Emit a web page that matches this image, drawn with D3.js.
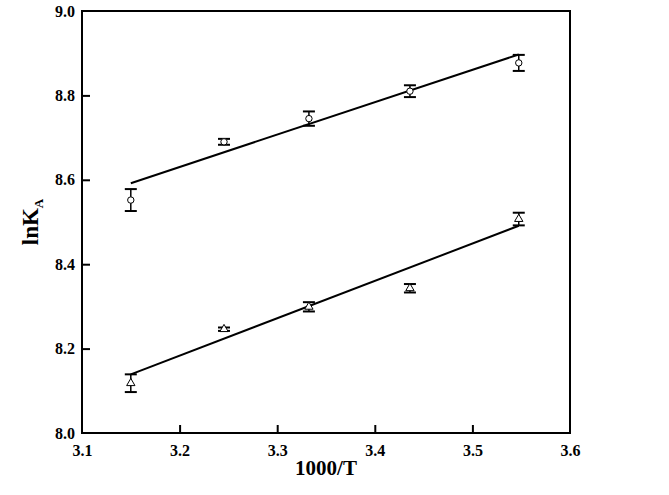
<!DOCTYPE html>
<html>
<head>
<meta charset="utf-8">
<script src="https://cdn.jsdelivr.net/npm/d3@7"></script>
<style>
html,body{margin:0;padding:0;background:#fff;}
svg{display:block;}
text{font-family:"Liberation Serif","Times New Roman",serif;font-weight:bold;fill:#000;}
</style>
</head>
<body>
<svg id="chart" width="669" height="495"></svg>
<script>
// Data
const xValues = [3.150, 3.2455, 3.3325, 3.436, 3.5475];
const circleY = [8.552, 8.690, 8.745, 8.810, 8.877];
const circleErr = [0.026, 0.007, 0.017, 0.014, 0.019];
const triangleY = [8.118, 8.246, 8.299, 8.343, 8.507];
const triangleErr = [0.021, 0.004, 0.011, 0.010, 0.015];
const fitX = [3.150, 3.5475];
const fitCircle = [8.592, 8.897];
const fitTriangle = [8.139, 8.491];
const xTicks = [3.1, 3.2, 3.3, 3.4, 3.5, 3.6];
const yTicks = [8.0, 8.2, 8.4, 8.6, 8.8, 9.0];

const svg = d3.select("#chart");
const L = 82, R = 570, T = 11, B = 433;
const x = d3.scaleLinear().domain([3.1, 3.6]).range([L, R]);
const y = d3.scaleLinear().domain([8.0, 9.0]).range([B, T]);

// frame
svg.append("rect").attr("x", L).attr("y", T).attr("width", R - L).attr("height", B - T)
  .attr("fill", "none").attr("stroke", "#000").attr("stroke-width", 2);

// axes with inward ticks
const xAxis = svg.append("g").attr("transform", `translate(0,${B})`)
  .call(d3.axisBottom(x).tickValues(xTicks).tickSize(-8).tickPadding(14).tickFormat(d3.format(".1f")));
const yAxis = svg.append("g").attr("transform", `translate(${L},0)`)
  .call(d3.axisLeft(y).tickValues(yTicks).tickSize(-8).tickPadding(14).tickFormat(d3.format(".1f")));
[xAxis, yAxis].forEach(a => {
  a.select(".domain").remove();
  a.selectAll(".tick line").attr("stroke", "#000").attr("stroke-width", 2);
  a.selectAll("text").attr("font-size", 16).attr("font-family", "Liberation Serif").attr("font-weight", "bold");
});
xAxis.selectAll(".tick line").filter(d => d === 3.1 || d === 3.6).remove();
yAxis.selectAll(".tick line").filter(d => d === 8.0 || d === 9.0).remove();
xAxis.selectAll("text").attr("dy", "0.71em").attr("y", 12);
yAxis.selectAll("text").attr("x", -7);

// axis titles
svg.append("text").attr("x", (L + R) / 2).attr("y", 475).attr("text-anchor", "middle")
  .attr("font-size", 21).text("1000/T");
const yt = svg.append("text").attr("transform", `translate(38,${(T + B) / 2}) rotate(-90)`)
  .attr("text-anchor", "middle").attr("font-size", 23);
yt.append("tspan").text("lnK");
yt.append("tspan").attr("font-size", 13).attr("dy", 5).text("A");

// fit lines
const line = d3.line().x(d => x(d[0])).y(d => y(d[1]));
[fitCircle, fitTriangle].forEach(f => {
  svg.append("path").datum(fitX.map((xv, i) => [xv, f[i]]))
    .attr("d", line).attr("fill", "none").attr("stroke", "#000").attr("stroke-width", 2);
});

// error bars
function errorBars(vals, errs) {
  const g = svg.append("g").attr("stroke", "#000").attr("stroke-width", 2);
  xValues.forEach((xv, i) => {
    const cx = x(xv), y1 = y(vals[i] + errs[i]), y2 = y(vals[i] - errs[i]);
    g.append("line").attr("x1", cx).attr("x2", cx).attr("y1", y1).attr("y2", y2).attr("stroke-width", 1.5);
    g.append("line").attr("x1", cx - 6).attr("x2", cx + 6).attr("y1", y1).attr("y2", y1);
    g.append("line").attr("x1", cx - 6).attr("x2", cx + 6).attr("y1", y2).attr("y2", y2);
  });
}
errorBars(circleY, circleErr);
errorBars(triangleY, triangleErr);

// markers
svg.append("g").selectAll("circle").data(xValues).join("circle")
  .attr("cx", d => x(d)).attr("cy", (d, i) => y(circleY[i])).attr("r", 3.2)
  .attr("fill", "#fff").attr("stroke", "#000").attr("stroke-width", 1);
const tri = d3.symbol().type(d3.symbolTriangle).size(30);
svg.append("g").selectAll("path").data(xValues).join("path")
  .attr("transform", (d, i) => `translate(${x(d)},${y(triangleY[i])})`)
  .attr("d", tri).attr("fill", "#fff").attr("stroke", "#000").attr("stroke-width", 1);
</script>
</body>
</html>
